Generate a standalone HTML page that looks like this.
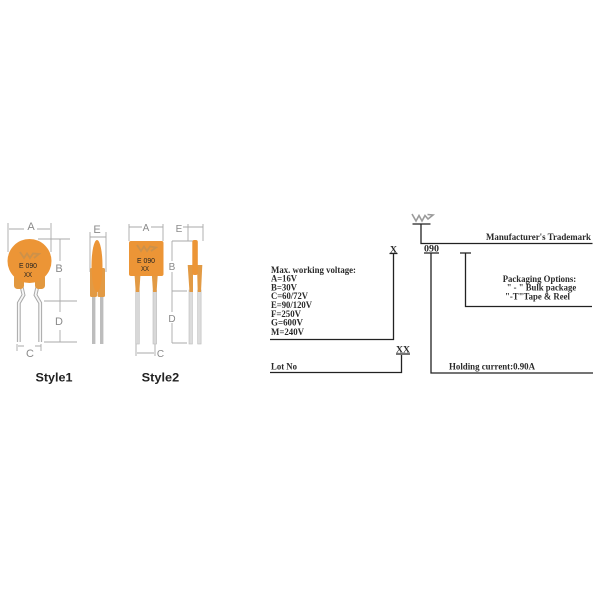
<!DOCTYPE html>
<html>
<head>
<meta charset="utf-8">
<style>
html,body{margin:0;padding:0;background:#fff}
svg{display:block}
.s{font-family:"Liberation Serif",serif;font-size:9px;font-weight:bold;fill:#2a2a2a}
.c{font-family:"Liberation Sans",sans-serif;font-size:7.5px;fill:#222}
.d{font-family:"Liberation Sans",sans-serif;font-size:11px;fill:#8a8a8a}
.t{font-family:"Liberation Sans",sans-serif;font-size:12px;font-weight:bold;fill:#222}
.b{filter:blur(.35px)}
</style>
</head>
<body>
<svg width="600" height="600" viewBox="0 0 600 600" xmlns="http://www.w3.org/2000/svg">
<rect width="600" height="600" fill="#fff"/>

<g class="b">
<!-- Style1 dimension lines -->
<g stroke="#aaa" stroke-width="0.9" fill="none">
<path d="M8 223V252M51 223V252M9 229H24M37 229H50"/>
<path d="M38 239H70M44 301H77M44 342H77M60 239V261M60 278V301V312M60 330V342"/>
<path d="M17 344V351M41 344V351M18 346H24M35 346H41"/>
<path d="M90 232V272M106 232V272M90 237H106"/>
</g>
<!-- Style1 leads -->
<g fill="none" stroke="#a8a8a8" stroke-width="3.8">
<path d="M21 284L23.500 295L18.800 303V342"/>
<path d="M38 284L35.500 295L40.200 303V342"/>
</g>
<g fill="none" stroke="#f6f6f6" stroke-width="1.800">
<path d="M21 284L23.500 295L18.800 303V342"/>
<path d="M38 284L35.500 295L40.200 303V342"/>
</g>
<!-- Style1 body -->
<rect x="14" y="274" width="10" height="15" rx="3.500" fill="#e2983f"/>
<rect x="35" y="274" width="10" height="15" rx="3.500" fill="#e2983f"/>
<circle cx="29.500" cy="261" r="22" fill="#ec9536"/>
<path d="M20 252L24 258L27 253.500L30 258L33 253.500L39 254L34 258" fill="none" stroke="#cd9149" stroke-width="1.800"/>
<text x="19" y="268" textLength="18" lengthAdjust="spacingAndGlyphs" class="c">E 090</text>
<text x="24" y="277" textLength="8" lengthAdjust="spacingAndGlyphs" class="c">XX</text>
<text x="31" y="230" text-anchor="middle" class="d">A</text>
<text x="59" y="272" text-anchor="middle" class="d">B</text>
<text x="59" y="325" text-anchor="middle" class="d">D</text>
<text x="30" y="357" text-anchor="middle" class="d">C</text>
<text x="97" y="233" text-anchor="middle" class="d">E</text>
<!-- Style1 side -->
<rect x="92" y="296" width="3.400" height="48" fill="#bdbdbd"/>
<rect x="100" y="296" width="3.400" height="48" fill="#bdbdbd"/>
<rect x="90" y="268" width="7" height="29" rx="1.500" fill="#e29a44"/>
<rect x="97.500" y="268" width="7.500" height="29" rx="1.500" fill="#e29a44"/>
<ellipse cx="97" cy="266" rx="5.500" ry="26" fill="#ec9536"/>

<!-- Style2 dimension lines -->
<g stroke="#aaa" stroke-width="0.9" fill="none">
<path d="M129 224V241M163 224V241M129 227H142M151 227H163"/>
<path d="M172 241H196M172 291H187M172 343H187M172 241V261M172 272V312M172 323V343"/>
<path d="M188 224V241M203 224V241M183 227H203"/>
<path d="M136 344V356M155 344V356M137 353H154"/>
</g>
<!-- Style2 leads -->
<rect x="135.700" y="290" width="3.600" height="54" fill="#d8d8d8" stroke="#bcbcbc" stroke-width=".6"/>
<rect x="153" y="290" width="3.600" height="54" fill="#d8d8d8" stroke="#bcbcbc" stroke-width=".6"/>
<path d="M134.500 274H140.500L139.300 292H135.700Z" fill="#e29a44"/>
<path d="M151.800 274H157.800L156.600 292H153Z" fill="#e29a44"/>
<rect x="129" y="241" width="34.500" height="35" rx="2" fill="#ec9536"/>
<path d="M137 245L141 251L144 246.500L147 251L150 246.500L156 247.500L151 251" fill="none" stroke="#cd9149" stroke-width="1.800"/>
<text x="137" y="263" textLength="18" lengthAdjust="spacingAndGlyphs" class="c">E 090</text>
<text x="141" y="271" textLength="8" lengthAdjust="spacingAndGlyphs" class="c">XX</text>
<text x="146" y="231" text-anchor="middle" class="d" style="font-size:10px">A</text>
<text x="172" y="270" text-anchor="middle" class="d" style="font-size:10px">B</text>
<text x="172" y="322" text-anchor="middle" class="d" style="font-size:10px">D</text>
<text x="160.500" y="357" text-anchor="middle" class="d" style="font-size:10px">C</text>
<text x="179" y="232" text-anchor="middle" class="d" style="font-size:10px">E</text>
<!-- Style2 side -->
<rect x="189" y="290" width="3.400" height="54" fill="#dcdcdc" stroke="#bcbcbc" stroke-width=".6"/>
<rect x="197.700" y="290" width="3.400" height="54" fill="#dcdcdc" stroke="#bcbcbc" stroke-width=".6"/>
<path d="M187.700 265H193V292H189.500ZM197 265H202.300L201 292H197.700Z" fill="#e29a44"/>
<rect x="192.300" y="240" width="5.500" height="35" rx="2" fill="#ec9536"/>
</g>

<text x="35.500" y="381.500" textLength="37" lengthAdjust="spacingAndGlyphs" class="t">Style1</text>
<text x="141.700" y="381.500" textLength="37.500" lengthAdjust="spacingAndGlyphs" class="t">Style2</text>

<g class="b">
<!-- Right diagram lines -->
<g stroke="#222" stroke-width="1.300" fill="none">
<path d="M270 339.500H393.500V254"/>
<path d="M270 372.500H401.500V355"/>
<path d="M412.500 224H430.500M421 224V243.500H592.500"/>
<path d="M424 253H439M431 253V373H593"/>
<path d="M460 253H471M465.500 253V306.500H592"/>
<path d="M389.500 253.500H397.500M396 354H410"/>
</g>
<path d="M412 214L416 221L419 215.500L422 221L425 215.500L428 219L433 215L427.500 214.500" fill="none" stroke="#9a9a9a" stroke-width="1.600"/>

<text x="390" y="252.500" textLength="7" lengthAdjust="spacingAndGlyphs" class="s">X</text>
<text x="396" y="352.500" textLength="14" lengthAdjust="spacingAndGlyphs" class="s">XX</text>
<text x="424" y="251.500" textLength="15" lengthAdjust="spacingAndGlyphs" class="s">090</text>
<text x="271" y="273" textLength="85" lengthAdjust="spacingAndGlyphs" class="s">Max. working voltage:</text>
<text x="271" y="281.700" textLength="26" lengthAdjust="spacingAndGlyphs" class="s">A=16V</text>
<text x="271" y="290.300" textLength="26" lengthAdjust="spacingAndGlyphs" class="s">B=30V</text>
<text x="271" y="299" textLength="37" lengthAdjust="spacingAndGlyphs" class="s">C=60/72V</text>
<text x="271" y="308" textLength="41" lengthAdjust="spacingAndGlyphs" class="s">E=90/120V</text>
<text x="271" y="317" textLength="30" lengthAdjust="spacingAndGlyphs" class="s">F=250V</text>
<text x="271" y="325.700" textLength="32" lengthAdjust="spacingAndGlyphs" class="s">G=600V</text>
<text x="271" y="335" textLength="33" lengthAdjust="spacingAndGlyphs" class="s">M=240V</text>
<text x="271" y="369.500" textLength="26" lengthAdjust="spacingAndGlyphs" class="s">Lot No</text>
<text x="486" y="240" textLength="105" lengthAdjust="spacingAndGlyphs" class="s">Manufacturer's Trademark</text>
<text x="502.700" y="282" textLength="73.500" lengthAdjust="spacingAndGlyphs" class="s">Packaging Options:</text>
<text x="506.700" y="290.700" textLength="69.500" lengthAdjust="spacingAndGlyphs" class="s">" - " Bulk package</text>
<text x="505" y="299.500" textLength="65" lengthAdjust="spacingAndGlyphs" class="s">"-T"Tape &amp; Reel</text>
<text x="449" y="369.500" textLength="86" lengthAdjust="spacingAndGlyphs" class="s">Holding current:0.90A</text>
</g>
</svg>
</body>
</html>
